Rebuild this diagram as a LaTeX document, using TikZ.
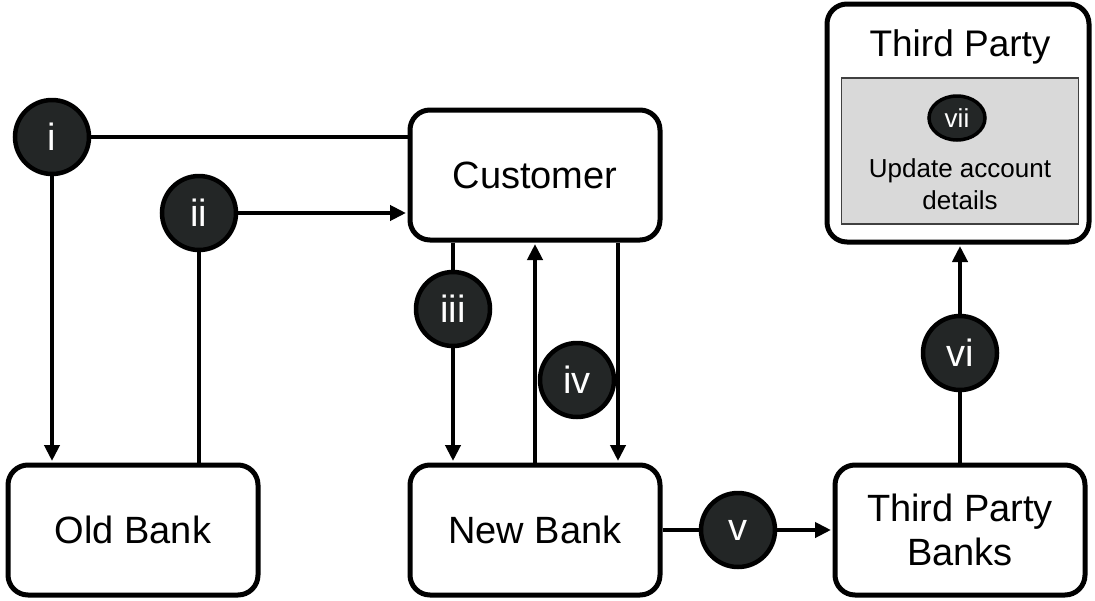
\documentclass[tikz,border=0pt]{standalone}
\usepackage{fontspec}
\setmainfont{Liberation Sans}
\usetikzlibrary{arrows.meta,shapes.geometric}

\definecolor{stepfill}{HTML}{232626}
\definecolor{panelgray}{HTML}{D9D9D9}

\tikzset{
  party/.style={draw, line width=5pt, rounded corners=20pt, fill=white,
    minimum width=250pt, minimum height=130pt, align=center,
    font=\fontsize{38}{44}\selectfont},
  stepdot/.style={circle, draw, line width=4.5pt, fill=stepfill, text=white,
    minimum size=74pt, inner sep=0pt, font=\fontsize{38}{42}\selectfont},
  link/.style={line width=4.5pt},
  flow/.style={line width=4.5pt, -{Triangle[length=16pt,width=15pt]}, shorten >=1.5pt}
}

\begin{document}
\begin{tikzpicture}[x=1pt,y=-1pt]
  \useasboundingbox (0,0) rectangle (1095,600);

  % the parties
  \node[party] (cust) at (535,175) {Customer};
  \node[party] (oldb) at (133,530) {Old Bank};
  \node[party] (newb) at (535,530) {New Bank};
  \node[party] (tpb) at (960,530) {Third Party\\Banks};
  \node[party, minimum width=262pt, minimum height=238pt] (tp) at (958,123) {};
  \node[font=\fontsize{37}{40}\selectfont] (tptitle) at (960,47) {Third Party};
  \node[draw=black!75, line width=1.5pt, fill=panelgray, minimum width=237pt,
    minimum height=146pt] (panel) at (960,151) {};
  \node[ellipse, draw, line width=3.5pt, fill=stepfill, text=white, inner sep=0pt,
    minimum width=56pt, minimum height=44pt, font=\fontsize{26}{28}\selectfont]
    (vii) at (957,118) {vii};
  \node[align=center, font=\fontsize{26}{32}\selectfont] (update) at (960,184)
    {Update account\\details};

  % the steps
  \node[stepdot] (i) at (52,137) {i};
  \node[stepdot] (ii) at (199,213) {ii};
  \node[stepdot] (iii) at (453,309) {iii};
  \node[stepdot] (iv) at (577,380) {iv};
  \node[stepdot] (v) at (738,530) {v};
  \node[stepdot] (vi) at (960,353) {vi};

  % connectors
  \draw[link] (i -| cust.west) -- (i);
  \draw[flow] (i) -- (i |- oldb.north);
  \draw[link] (ii |- oldb.north) -- (ii);
  \draw[flow] (ii) -- (ii -| cust.west);
  \draw[link] ([xshift=-82pt]cust.south) -- (iii);
  \draw[flow] (iii) -- (iii |- newb.north);
  \draw[flow] (newb.north) -- (cust.south);
  \draw[flow] ([xshift=83pt]cust.south) -- ([xshift=83pt]newb.north);
  \draw[link] (newb.east) -- (v);
  \draw[flow] (v) -- (tpb.west);
  \draw[link] (tpb.north) -- (vi);
  \draw[flow] (vi) -- (vi |- tp.south);
\end{tikzpicture}
\end{document}
